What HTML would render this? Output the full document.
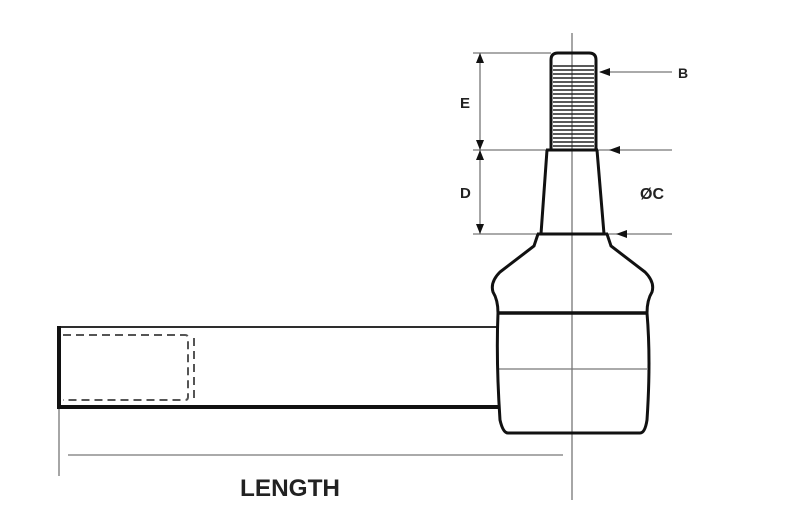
<!DOCTYPE html>
<html><head><style>
html,body{margin:0;padding:0;background:#fff;}
svg{display:block;}
text{font-family:"Liberation Sans",sans-serif;font-weight:bold;fill:#222;}
</style></head><body>
<svg width="800" height="518" viewBox="0 0 800 518" xmlns="http://www.w3.org/2000/svg">
<line x1="572" y1="33" x2="572" y2="500" stroke="#888" stroke-width="1.5"/>
<g stroke="#777" stroke-width="1.3">
<line x1="473" y1="53" x2="551" y2="53"/>
<line x1="473" y1="150" x2="672" y2="150"/>
<line x1="473" y1="234" x2="672" y2="234"/>
<line x1="480" y1="53" x2="480" y2="234"/>
<line x1="600" y1="72" x2="672" y2="72"/>
<line x1="68" y1="455" x2="563" y2="455"/>
<line x1="59" y1="408" x2="59" y2="476"/>
<line x1="498" y1="369" x2="647" y2="369"/>
</g>
<g fill="#111">
<polygon points="480,53 476,63 484,63"/>
<polygon points="480,150 476,140 484,140"/>
<polygon points="480,150 476,160 484,160"/>
<polygon points="480,234 476,224 484,224"/>
<polygon points="599,72 610,68 610,76"/>
<polygon points="609,150 620,146 620,154"/>
<polygon points="616,234 627,230 627,238"/>
</g>
<g stroke="#222" stroke-width="1.6">
<line x1="553" y1="66" x2="594" y2="66"/><line x1="553" y1="70" x2="594" y2="70"/>
<line x1="553" y1="74" x2="594" y2="74"/><line x1="553" y1="78" x2="594" y2="78"/>
<line x1="553" y1="82" x2="594" y2="82"/><line x1="553" y1="86" x2="594" y2="86"/>
<line x1="553" y1="90" x2="594" y2="90"/><line x1="553" y1="94" x2="594" y2="94"/>
<line x1="553" y1="98" x2="594" y2="98"/><line x1="553" y1="102" x2="594" y2="102"/>
<line x1="553" y1="106" x2="594" y2="106"/><line x1="553" y1="110" x2="594" y2="110"/>
<line x1="553" y1="114" x2="594" y2="114"/><line x1="553" y1="118" x2="594" y2="118"/>
<line x1="553" y1="122" x2="594" y2="122"/><line x1="553" y1="126" x2="594" y2="126"/>
<line x1="553" y1="130" x2="594" y2="130"/><line x1="553" y1="134" x2="594" y2="134"/>
<line x1="553" y1="138" x2="594" y2="138"/><line x1="553" y1="142" x2="594" y2="142"/>
<line x1="553" y1="146" x2="594" y2="146"/>
</g>
<g fill="none" stroke="#111" stroke-width="3">
<path d="M551,150 L551,60 Q551,53 558,53 L589,53 Q596,53 596,60 L596,150"/>
<line x1="546" y1="150" x2="598" y2="150"/>
<path d="M547,150 L541,234 M597,150 L604,234"/>
<line x1="537" y1="234" x2="608" y2="234"/>
<path d="M538,234 L534,246 L500,272 Q490,282 493,292 Q498,300 498,313 Q496,360 500,420 Q503,433 508,433 L640,433 Q645,433 647,420 Q651,360 647,313 Q647,300 652,292 Q655,282 645,272 L611,246 L607,234"/>
<line x1="498" y1="313" x2="647" y2="313" stroke-width="3.5"/>
<line x1="59" y1="327" x2="498" y2="327" stroke-width="1.8"/>
<line x1="59" y1="407" x2="498" y2="407" stroke-width="4"/>
<line x1="59" y1="326" x2="59" y2="409" stroke-width="4"/>
</g>
<g fill="none" stroke="#555" stroke-width="2" stroke-dasharray="8,5">
<path d="M63,335 L185,335 Q188,335 188,338 L188,397 Q188,400 185,400 L63,400"/>
<line x1="194" y1="338" x2="194" y2="398"/>
</g>
<text x="460" y="108" font-size="15">E</text>
<text x="460" y="198" font-size="15">D</text>
<text x="640" y="199" font-size="16">ØC</text>
<text x="678" y="78" font-size="14">B</text>
<text x="240" y="496" font-size="24" textLength="100" lengthAdjust="spacingAndGlyphs">LENGTH</text>
</svg>
</body></html>
